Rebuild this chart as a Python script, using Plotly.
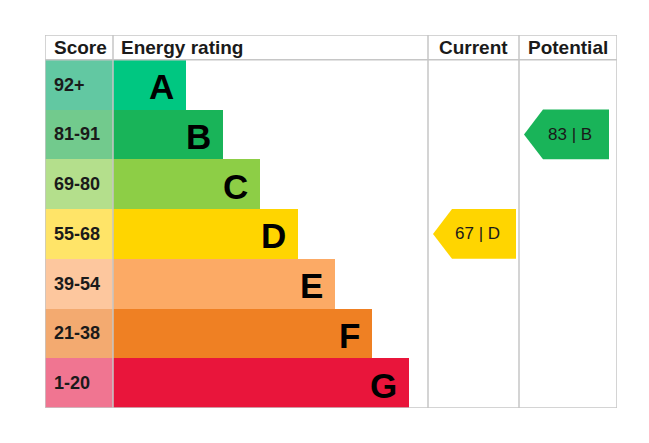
import plotly.graph_objects as go

# Data
BANDS = ["A", "B", "C", "D", "E", "F", "G"]
SCORES = ["92+", "81-91", "69-80", "55-68", "39-54", "21-38", "1-20"]
BAR_COLORS = ["#00c781", "#19b459", "#8dce46", "#ffd500", "#fcaa65", "#ef8023", "#e9153b"]
SCORE_COLORS = ["#62c8a2", "#72ca8d", "#b4df8c", "#ffe468", "#fdc79e", "#f3aa70", "#f07591"]
CURRENT_SCORE, CURRENT_BAND = 67, "D"
POTENTIAL_SCORE, POTENTIAL_BAND = 83, "B"

# Layout (x in px from the left border, y in row units)
SCORE_W = 68
ENERGY_END = 383
CURRENT_END = 474
TABLE_W = 572
BAR_MIN = 73
BAR_STEP = 37.2
GRID = "#c6c6c6"
TEXT = "#1a1a1a"
FONT = "Liberation Sans, Arial, sans-serif"

rows = list(range(len(BANDS)))
bar_w = [BAR_MIN + BAR_STEP * i for i in rows]

fig = go.Figure()

# score cells
fig.add_trace(go.Bar(
    y=rows, x=[SCORE_W] * len(rows), base=0, orientation="h", width=1,
    marker=dict(color=SCORE_COLORS, line=dict(width=0)),
    hoverinfo="skip", showlegend=False,
))
# rating bars
fig.add_trace(go.Bar(
    y=rows, x=bar_w, base=SCORE_W, orientation="h", width=1,
    marker=dict(color=BAR_COLORS, line=dict(width=0)),
    hovertext=[f"{b}: {s}" for b, s in zip(BANDS, SCORES)], hoverinfo="text",
    showlegend=False,
))


def arrow(col_left, col_right, band, score, color, inset):
    i = BANDS.index(band)
    tip = col_left + 5
    shoulder = col_left + 24
    right = col_right - inset
    xs = [tip, shoulder, right, right, shoulder, tip]
    ys = [i, i - 0.5, i - 0.5, i + 0.5, i + 0.5, i]
    fig.add_trace(go.Scatter(
        x=xs, y=ys, mode="lines", fill="toself", fillcolor=color,
        line=dict(width=0, color=color), hoverinfo="skip", showlegend=False,
    ))
    fig.add_annotation(
        x=(tip + right) / 2 + 3, y=i, text=f"{score} | {band}", showarrow=False,
        font=dict(size=17, color=TEXT, family=FONT),
    )


arrow(ENERGY_END, CURRENT_END, CURRENT_BAND, CURRENT_SCORE,
      BAR_COLORS[BANDS.index(CURRENT_BAND)], 3)
arrow(CURRENT_END, TABLE_W, POTENTIAL_BAND, POTENTIAL_SCORE,
      BAR_COLORS[BANDS.index(POTENTIAL_BAND)], 8)

# letters and score labels
for i, band in enumerate(BANDS):
    fig.add_annotation(
        x=SCORE_W + bar_w[i] - 10, y=i + 0.04, text=f"<b>{band}</b>", showarrow=False,
        xanchor="right", font=dict(size=35, color="#000000", family=FONT),
    )
    fig.add_annotation(
        x=7, y=i, text=f"<b>{SCORES[i]}</b>", showarrow=False,
        xanchor="left", font=dict(size=18, color=TEXT, family=FONT),
    )

# header
headers = [
    (7, "left", "<b>Score</b>"),
    (SCORE_W + 6, "left", "<b>Energy rating</b>"),
    ((ENERGY_END + CURRENT_END) / 2, "center", "<b>Current</b>"),
    ((CURRENT_END + TABLE_W) / 2, "center", "<b>Potential</b>"),
]
for x, anchor, txt in headers:
    fig.add_annotation(
        x=x, y=-0.75, text=txt, showarrow=False, xanchor=anchor,
        font=dict(size=19, color=TEXT, family=FONT),
    )

# grid lines
line = dict(color=GRID, width=1.5)
shapes = [
    dict(type="rect", x0=0, x1=TABLE_W, y0=-1, y1=6.5, line=line),
    dict(type="line", x0=0, x1=TABLE_W, y0=-0.5, y1=-0.5, line=line),
]
for x in (SCORE_W, ENERGY_END, CURRENT_END):
    shapes.append(dict(type="line", x0=x, x1=x, y0=-1, y1=6.5, line=line))

# page body has an 8px margin, so the plot area is offset accordingly
fig.update_layout(
    width=649, height=443,
    margin=dict(l=37, r=40, t=27, b=43),
    paper_bgcolor="white", plot_bgcolor="white",
    barmode="overlay", bargap=0,
    shapes=shapes,
    font=dict(family=FONT),
    xaxis=dict(range=[0, TABLE_W], visible=False, fixedrange=True),
    yaxis=dict(range=[6.5, -1], visible=False, fixedrange=True),
)

fig.write_html("out.html")
